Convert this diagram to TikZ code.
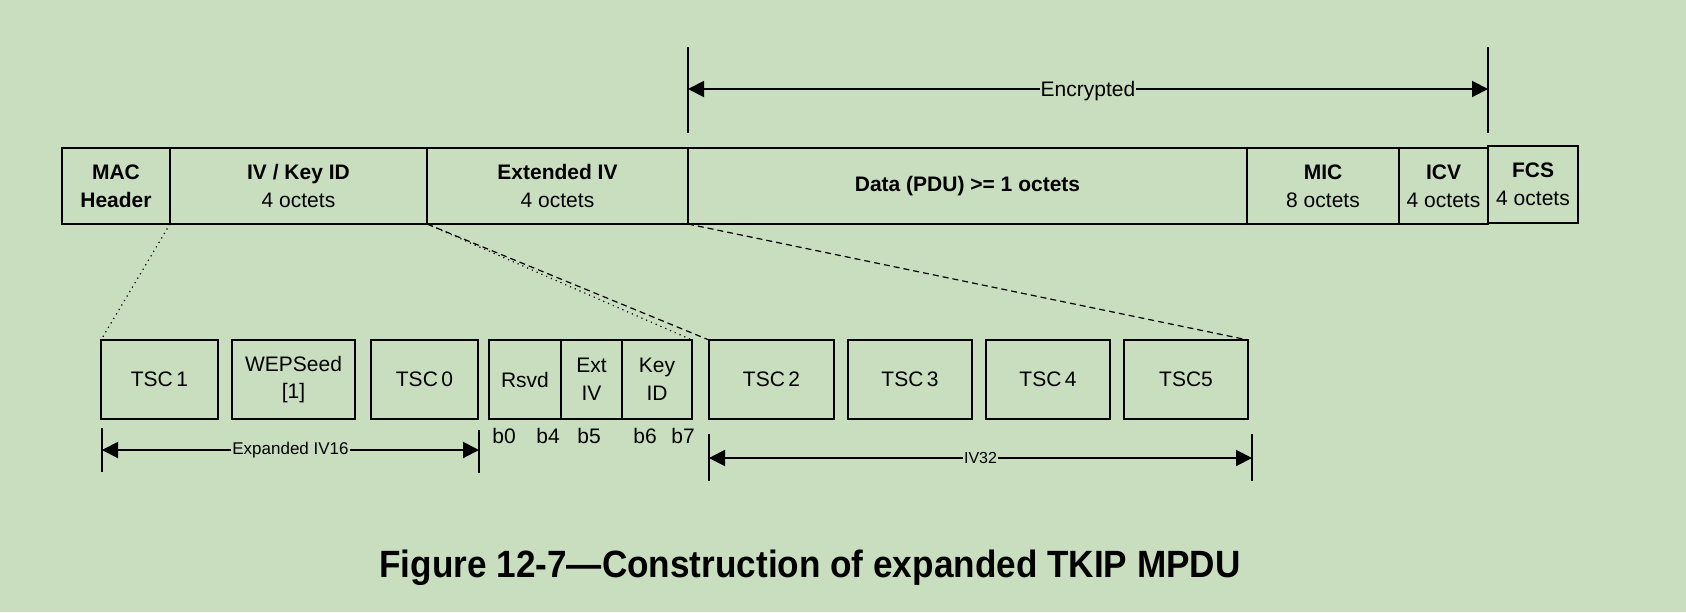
\documentclass[tikz,border=0pt]{standalone}
\usepackage{fontspec}
\setmainfont{Liberation Sans}
\newfontfamily\titlefont{Liberation Sans}[FakeStretch=0.925]
\usetikzlibrary{arrows.meta}
\definecolor{bg}{RGB}{201,222,191}
\tikzset{
  box/.style={draw, line width=1.3pt, inner sep=0pt, outer sep=0pt, align=center,
    font=\fontsize{10.5}{13.8}\selectfont},
  boldtxt/.style={font=\fontsize{10.5}{13.8}\selectfont\bfseries},
  bit/.style={inner sep=0pt, font=\fontsize{10.5}{12}\selectfont},
  tickline/.style={line width=1pt},
  dimline/.style={line width=1pt, {Triangle[length=8pt,width=8pt]}-{Triangle[length=8pt,width=8pt]}},
  dimlabel/.style={fill=bg, inner sep=0.5pt},
  zoomdash/.style={line width=0.6pt, densely dashed},
  zoomdot/.style={line width=0.6pt, dotted},
}
\newcommand\bx[7]{\node[box,#1, minimum width={(#5-#3)*0.5pt}, minimum height={(#6-#4)*0.5pt}] (#2) at ({(#3+#5)/2},{(#4+#6)/2}) {#7};}
\begin{document}
\begin{tikzpicture}[x=0.5pt,y=-0.5pt]
\fill[bg] (0,0) rectangle (1686,612);
\useasboundingbox (0,0) rectangle (1686,612);

% top row
\bx{boldtxt}{mac}{62}{148}{170}{224}{MAC\\Header}
\bx{}{iv}{170}{148}{427}{224}{\textbf{IV / Key ID}\\4 octets}
\bx{}{ext}{427}{148}{688}{224}{\textbf{Extended IV}\\4 octets}
\bx{boldtxt}{data}{688}{148}{1247}{224}{Data (PDU) >= 1 octets}
\bx{}{mic}{1247}{148}{1399}{224}{\textbf{MIC}\\8 octets}
\bx{}{icv}{1399}{148}{1488}{224}{\textbf{ICV}\\4 octets}
\bx{}{fcs}{1488}{146}{1578}{223}{\textbf{FCS}\\4 octets}

% encrypted dimension
\coordinate (eL1) at (688,47); \coordinate (eL2) at (688,133);
\coordinate (eR1) at (1488,47); \coordinate (eR2) at (1488,133);
\coordinate (eLa) at (688,89); \coordinate (eRa) at (1488,89);
\draw[tickline] (eL1) -- (eL2);
\draw[tickline] (eR1) -- (eR2);
\draw[dimline] (eLa) -- (eRa) node[dimlabel, midway, yshift=-1pt, font=\fontsize{10.5}{12}\selectfont] (enc) {Encrypted};

% lower row
\bx{}{tsc1}{101}{340}{218}{419}{TSC\,1}
\bx{}{wep}{232}{340}{355}{419}{WEPSeed\\{[1]}}
\bx{}{tsc0}{371}{340}{478}{419}{TSC\,0}
\bx{}{rsvd}{489}{340}{561}{419}{Rsvd}
\bx{}{extiv}{561}{340}{622}{419}{Ext\\IV}
\bx{}{keyid}{622}{340}{692}{419}{Key\\ID}
\bx{}{tsc2}{709}{340}{834}{419}{TSC\,2}
\bx{}{tsc3}{848}{340}{972}{419}{TSC\,3}
\bx{}{tsc4}{986}{340}{1110}{419}{TSC\,4}
\bx{}{tsc5}{1124}{340}{1248}{419}{TSC5}

% bit labels
\node[bit] (b0) at (504,436) {b0};
\node[bit] (b4) at (548,436) {b4};
\node[bit] (b5) at (589,436) {b5};
\node[bit] (b6) at (645,436) {b6};
\node[bit] (b7) at (683,436) {b7};

% Expanded IV16
\coordinate (xL1) at (102,428); \coordinate (xL2) at (102,472);
\coordinate (xR1) at (479,430); \coordinate (xR2) at (479,473);
\coordinate (xLa) at (102,450); \coordinate (xRa) at (479,450);
\draw[tickline] (xL1) -- (xL2);
\draw[tickline] (xR1) -- (xR2);
\draw[dimline] (xLa) -- (xRa) node[dimlabel, midway, font=\fontsize{8.5}{10}\selectfont] (iv16) {Expanded IV16};

% IV32
\coordinate (vL1) at (709,434); \coordinate (vL2) at (709,481);
\coordinate (vR1) at (1252,434); \coordinate (vR2) at (1252,481);
\coordinate (vLa) at (709,458); \coordinate (vRa) at (1252,458);
\draw[tickline] (vL1) -- (vL2);
\draw[tickline] (vR1) -- (vR2);
\draw[dimline] (vLa) -- (vRa) node[dimlabel, midway, font=\fontsize{8}{10}\selectfont] (iv32) {IV32};

% expansion lines
\draw[zoomdot] (mac.south east) -- (tsc1.north west);
\draw[zoomdot] (iv.south east) -- (keyid.north east);
\draw[zoomdash] (iv.south east) -- (tsc2.north west);
\draw[zoomdash] (ext.south east) -- (tsc5.north east);

% title
\node[font=\titlefont\fontsize{19}{22}\selectfont\bfseries] (title) at (810,568) {Figure 12-7—Construction of expanded TKIP MPDU};
\end{tikzpicture}
\end{document}
